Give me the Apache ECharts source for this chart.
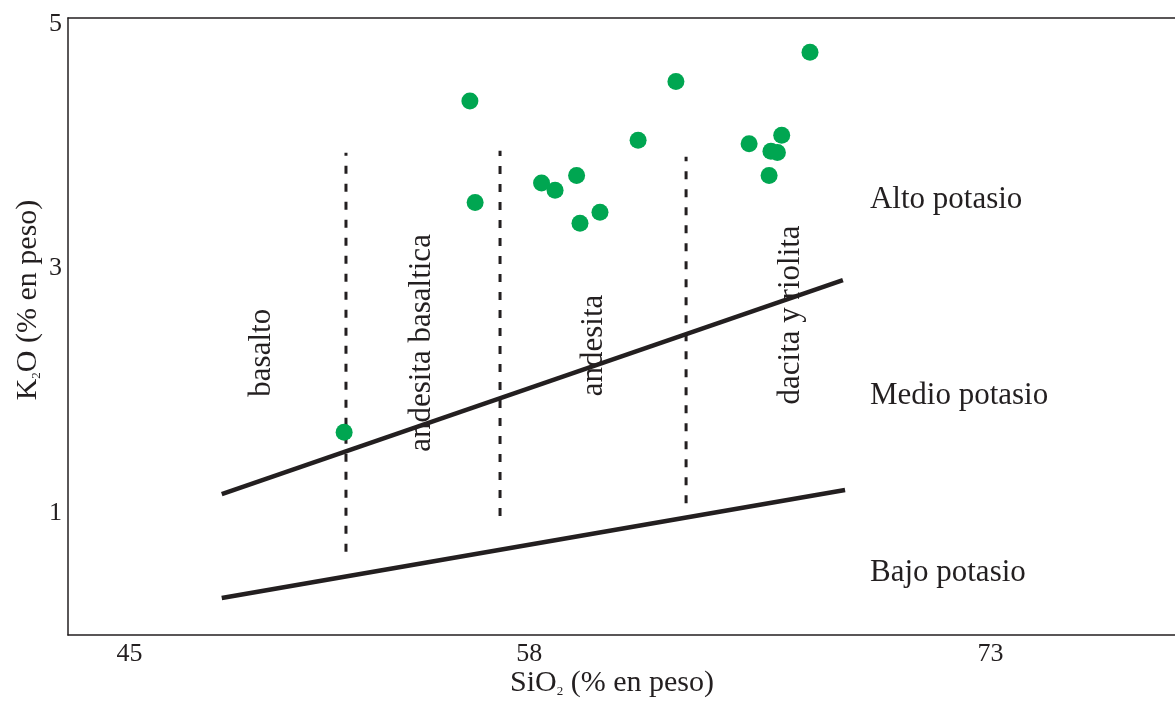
<!DOCTYPE html>
<html><head><meta charset="utf-8">
<script src="https://cdn.jsdelivr.net/npm/echarts@6/dist/echarts.min.js"></script>
<style>html,body{margin:0;padding:0;background:#fff}#c{width:1175px;height:705px}</style>
</head><body><div id="c"></div>
<script>
// ---- data ----
const xTicks = [45, 58, 73];
const yTicks = [1, 3, 5];
const sampleSiO2 = [56.07, 56.24, 58.40, 58.84, 59.54, 59.65, 60.30, 61.54, 62.77, 65.15, 65.86, 66.07, 66.21, 65.80, 67.13, 51.98];
const sampleK2O  = [4.37, 3.54, 3.70, 3.64, 3.76, 3.37, 3.46, 4.05, 4.53, 4.02, 3.96, 3.95, 4.09, 3.76, 4.77, 1.66];
const highMediumSiO2 = [48.0, 68.2];
const highMediumK2O  = [1.154, 2.905];
const mediumLowSiO2 = [48.0, 68.27];
const mediumLowK2O  = [0.303, 1.187];
const rockBoundarySiO2 = [52.04, 57.05, 63.10];
const rockBoundaryTopK2O = [3.947, 3.963, 3.914];
const rockBoundaryBottomK2O = [0.682, 0.974, 1.078];
const rockNames = ['basalto', 'andesita basaltica', 'andesita', 'dacita y riolita'];
const rockNameSiO2 = [49.31, 54.51, 60.11, 66.51];
const rockNameK2O  = [2.31, 2.39, 2.37, 2.62];
const potassiumNames = ['Alto potasio', 'Medio potasio', 'Bajo potasio'];
const potassiumNameSiO2 = [69.08, 69.08, 69.08];
const potassiumNameK2O  = [3.56, 1.96, 0.51];

// ---- chart ----
const INK = '#231f20';
const FONT = '"Liberation Serif", "DejaVu Serif", serif';
const chart = echarts.init(document.getElementById('c'), null, {renderer: 'canvas'});

const zip = (xs, ys) => xs.map((x, i) => [x, ys[i]]);

const series = [];
series.push({
  name: 'Alto/Medio', type: 'line', data: zip(highMediumSiO2, highMediumK2O),
  symbol: 'none', silent: true, z: 2,
  lineStyle: {color: INK, width: 4.5}
});
series.push({
  name: 'Medio/Bajo', type: 'line', data: zip(mediumLowSiO2, mediumLowK2O),
  symbol: 'none', silent: true, z: 2,
  lineStyle: {color: INK, width: 4.5}
});
rockBoundarySiO2.forEach((x, i) => {
  series.push({
    name: 'limite ' + (i + 1), type: 'line',
    data: [[x, rockBoundaryBottomK2O[i]], [x, rockBoundaryTopK2O[i]]],
    symbol: 'none', silent: true, z: 2,
    lineStyle: {color: INK, width: 3, type: [8, 10], cap: 'butt'}
  });
});
const labelBase = {show: true, position: 'inside', color: INK, opacity: 1,
  textBorderWidth: 0, fontFamily: FONT, fontSize: 31, formatter: p => p.name};
series.push({
  name: 'rocas', type: 'scatter', symbolSize: 0, silent: true, z: 3,
  itemStyle: {opacity: 1},
  data: rockNames.map((n, i) => ({name: n, value: [rockNameSiO2[i], rockNameK2O[i]]})),
  label: Object.assign({}, labelBase, {rotate: 90, align: 'center', verticalAlign: 'middle'})
});
series.push({
  name: 'potasio', type: 'scatter', symbolSize: 0, silent: true, z: 3,
  itemStyle: {opacity: 1},
  data: potassiumNames.map((n, i) => ({name: n, value: [potassiumNameSiO2[i], potassiumNameK2O[i]]})),
  label: Object.assign({}, labelBase, {align: 'left', verticalAlign: 'middle'})
});
series.push({
  name: 'muestras', type: 'scatter', data: zip(sampleSiO2, sampleK2O),
  symbol: 'circle', symbolSize: 17, z: 4,
  itemStyle: {color: '#00a651', opacity: 1}
});

chart.setOption({
  animation: false,
  backgroundColor: '#fff',
  grid: {left: 68, right: 0, top: 18, bottom: 70, containLabel: false},
  xAxis: [{
    type: 'value', min: 43, max: 79, position: 'bottom',
    axisLine: {show: true, onZero: false, lineStyle: {color: INK, width: 1.5}},
    axisTick: {show: false}, splitLine: {show: false},
    axisLabel: {customValues: xTicks, color: INK, fontFamily: FONT, fontSize: 26, margin: 6}
  }, {
    type: 'value', min: 43, max: 79, position: 'top',
    axisLine: {show: true, onZero: false, lineStyle: {color: INK, width: 1.5}},
    axisTick: {show: false}, splitLine: {show: false}, axisLabel: {show: false}
  }],
  yAxis: {
    type: 'value', min: 0, max: 5.05,
    axisLine: {show: true, onZero: false, lineStyle: {color: INK, width: 1.5}},
    axisTick: {show: false}, splitLine: {show: false},
    axisLabel: {customValues: yTicks, color: INK, fontFamily: FONT, fontSize: 26, margin: 6}
  },
  graphic: [{
    type: 'text', left: 510, top: 668, silent: true,
    style: {
      text: '{a|SiO}{s|2}{a| (% en peso)}',
      rich: {
        a: {fontFamily: FONT, fontSize: 30, lineHeight: 30, fill: INK},
        s: {fontFamily: FONT, fontSize: 13, lineHeight: 13, verticalAlign: 'bottom', fill: INK}
      }
    }
  }, {
    type: 'text', x: 28, y: 300, rotation: Math.PI / 2, silent: true,
    style: {
      text: '{a|K}{s|2}{a|O (% en peso)}', align: 'center', verticalAlign: 'middle',
      rich: {
        a: {fontFamily: FONT, fontSize: 30, lineHeight: 30, fill: INK},
        s: {fontFamily: FONT, fontSize: 13, lineHeight: 13, verticalAlign: 'bottom', fill: INK}
      }
    }
  }],
  series: series
});
</script>
</body></html>
